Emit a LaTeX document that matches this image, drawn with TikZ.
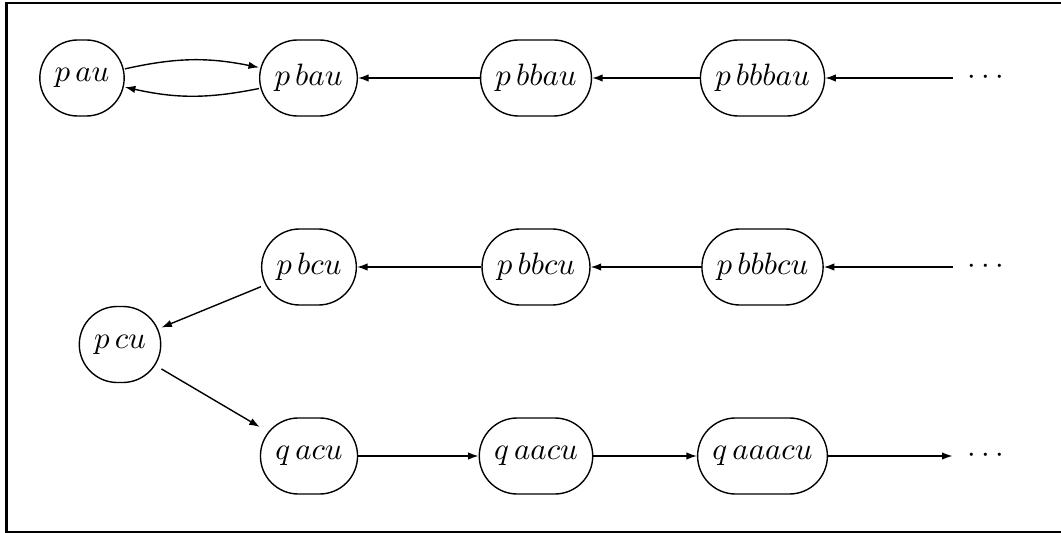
\documentclass[tikz,border=0pt]{standalone}
\usetikzlibrary{arrows.meta}
\begin{document}
\begin{tikzpicture}[x=0.3236pt,y=-0.3236pt,
  st/.style={draw,line width=0.45pt,rectangle,rounded corners=12.3pt,minimum height=24.6pt,inner xsep=4.8pt,inner ysep=3pt},
  dt/.style={inner xsep=4.8pt},
  ed/.style={line width=0.45pt,-{Latex[length=3.4pt,width=2.4pt]}},
  frame/.style={line width=0.65pt}]
\useasboundingbox (0,0) rectangle (1061,533);
\clip (0,0) rectangle (1061,533);
\draw[frame] (1080,3) -- (6.5,3) -- (6.5,532) -- (1080,532);
% row 1
\node[st] (pau)    at (82,78)    {$p\,au$};
\node[st] (pbau)   at (308.5,78) {$p\,bau$};
\node[st] (pbbau)  at (536,78)   {$p\,bbau$};
\node[st] (pbbbau) at (762.5,78) {$p\,bbbau$};
\node[dt] (d1)     at (986,78)   {$\cdots$};
% row 2
\node[st] (pbcu)   at (309,267)  {$p\,bcu$};
\node[st] (pbbcu)  at (536,267)  {$p\,bbcu$};
\node[st] (pbbbcu) at (762.5,267){$p\,bbbcu$};
\node[dt] (d2)     at (986,267)  {$\cdots$};
% middle
\node[st] (pcu)    at (120,344.5){$p\,cu$};
% row 3
\node[st] (qacu)   at (309,456)  {$q\,acu$};
\node[st] (qaacu)  at (536,456)  {$q\,aacu$};
\node[st] (qaaacu) at (762.5,456){$q\,aaacu$};
\node[dt] (d3)     at (986,456)  {$\cdots$};
% edges
\draw[ed] (pau) to[bend left=12] (pbau);
\draw[ed] (pbau) to[bend left=12] (pau);
\draw[ed] (pbbau) -- (pbau);
\draw[ed] (pbbbau) -- (pbbau);
\draw[ed] (d1) -- (pbbbau);
\draw[ed] (pbbcu) -- (pbcu);
\draw[ed] (pbbbcu) -- (pbbcu);
\draw[ed] (d2) -- (pbbbcu);
\draw[ed] (pbcu) -- (pcu);
\draw[ed] (pcu) -- (qacu);
\draw[ed] (qacu) -- (qaacu);
\draw[ed] (qaacu) -- (qaaacu);
\draw[ed] (qaaacu) -- (d3);
\end{tikzpicture}
\end{document}
